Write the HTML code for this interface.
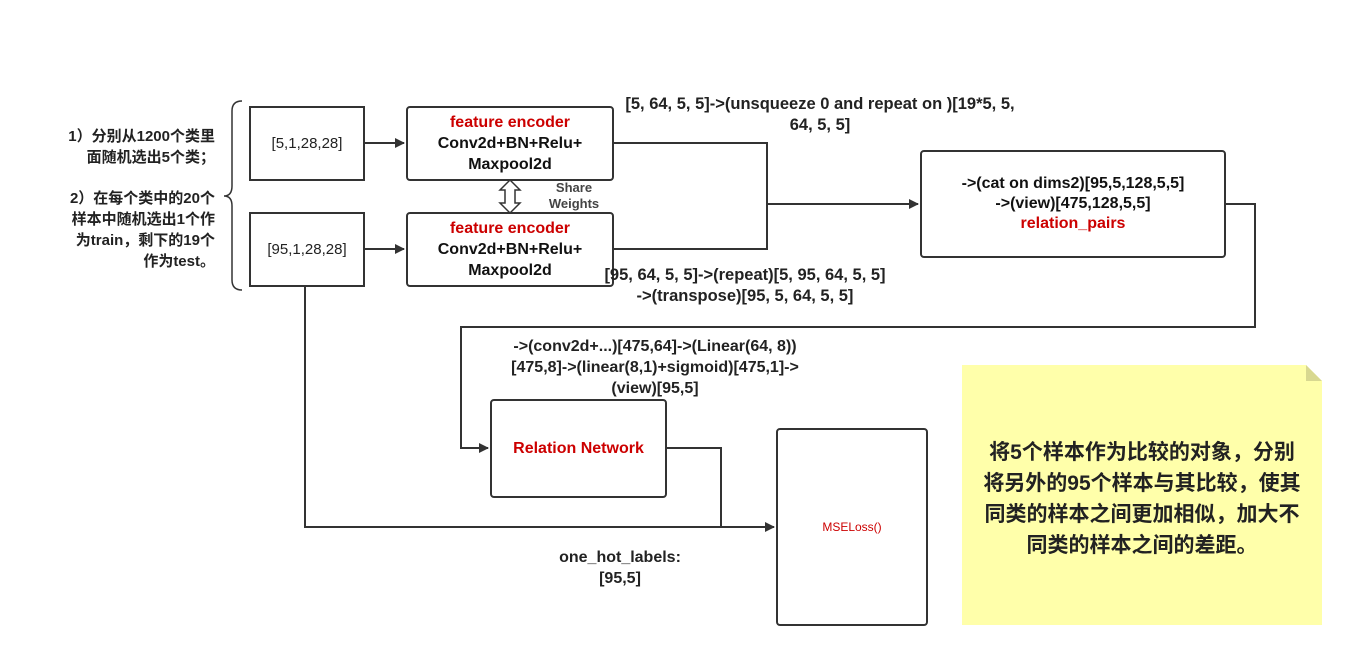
<!DOCTYPE html>
<html><head><meta charset="utf-8"><style>
body{margin:0;background:#fff;width:1354px;height:658px;overflow:hidden;position:relative;font-family:"Liberation Sans","Noto Sans CJK SC",sans-serif;font-weight:bold;color:#222}
.b{position:absolute;border:2px solid #333;box-sizing:border-box;display:flex;align-items:center;justify-content:center;text-align:center;background:#fff}
.r{border-radius:4px}
.t{position:absolute;text-align:center;font-size:15px;line-height:21px}
.red{color:#c00}
</style></head><body>
<svg width="1354" height="658" style="position:absolute;left:0;top:0">
<defs><marker id="a" markerWidth="10" markerHeight="10" refX="9" refY="5" orient="auto" markerUnits="userSpaceOnUse"><path d="M0,0 L10,5 L0,10 z" fill="#333"/></marker></defs>
<g stroke="#333" stroke-width="2" fill="none">
<path d="M242,101 Q232,101 232,111 L232,186 Q232,196 224,196 Q232,196 232,206 L232,280 Q232,290 242,290" stroke-width="1.5"/>
<path d="M364,143 L404,143" marker-end="url(#a)"/>
<path d="M364,249 L404,249" marker-end="url(#a)"/>
<path d="M613,143 L767,143 L767,249 L613,249"/>
<path d="M767,204 L918,204" marker-end="url(#a)"/>
<path d="M1225,204 L1255,204 L1255,327 L461,327 L461,448 L488,448" marker-end="url(#a)"/>
<path d="M666,448 L721,448 L721,527"/>
<path d="M305,286 L305,527 L774,527" marker-end="url(#a)"/>
</g>
<path d="M510,180 L500,190 L505,190 L505,203 L500,203 L510,213 L520,203 L515,203 L515,190 L520,190 Z" fill="#fff" stroke="#333" stroke-width="1.5"/>
<path d="M962,365 L1306,365 L1322,381 L1322,625 L962,625 Z" fill="#ffffaa"/>
<path d="M1306,365 L1306,381 L1322,381 Z" fill="#d8d890"/>
</svg>
<div class="t" style="left:30px;top:126px;width:185px;text-align:right">1）分别从1200个类里<br>面随机选出5个类；</div>
<div class="t" style="left:30px;top:188px;width:185px;text-align:right">2）在每个类中的20个<br>样本中随机选出1个作<br>为train，剩下的19个<br>作为test。</div>
<div class="b" style="left:249px;top:106px;width:116px;height:75px;font-weight:normal;font-size:15px">[5,1,28,28]</div>
<div class="b" style="left:249px;top:212px;width:116px;height:75px;font-weight:normal;font-size:15px">[95,1,28,28]</div>
<div class="b r" style="left:406px;top:106px;width:208px;height:75px;font-size:16px;line-height:21px;color:#111"><div><span class="red">feature encoder</span><br>Conv2d+BN+Relu+<br>Maxpool2d</div></div>
<div class="b r" style="left:406px;top:212px;width:208px;height:75px;font-size:16px;line-height:21px;color:#111"><div><span class="red">feature encoder</span><br>Conv2d+BN+Relu+<br>Maxpool2d</div></div>
<div class="t" style="left:535px;top:180px;width:78px;font-size:13px;line-height:16px;color:#444">Share<br>Weights</div>
<div class="t" style="left:590px;top:94px;width:460px;font-size:16.5px">[5, 64, 5, 5]-&gt;(unsqueeze 0 and repeat on )[19*5, 5,<br>64, 5, 5]</div>
<div class="t" style="left:570px;top:265px;width:350px;font-size:16.5px">[95, 64, 5, 5]-&gt;(repeat)[5, 95, 64, 5, 5]<br>-&gt;(transpose)[95, 5, 64, 5, 5]</div>
<div class="b r" style="left:920px;top:150px;width:306px;height:108px;font-size:16px;line-height:20px;color:#111"><div>-&gt;(cat on dims2)[95,5,128,5,5]<br>-&gt;(view)[475,128,5,5]<br><span class="red" style="font-size:16px">relation_pairs</span></div></div>
<div class="t" style="left:465px;top:336px;width:380px;font-size:16px">-&gt;(conv2d+...)[475,64]-&gt;(Linear(64, 8))<br>[475,8]-&gt;(linear(8,1)+sigmoid)[475,1]-&gt;<br>(view)[95,5]</div>
<div class="b r" style="left:490px;top:399px;width:177px;height:99px;font-size:16px"><span class="red">Relation Network</span></div>
<div class="b r" style="left:776px;top:428px;width:152px;height:198px;font-size:12px;font-weight:normal"><span class="red">MSELoss()</span></div>
<div class="t" style="left:540px;top:547px;width:160px;font-size:16px">one_hot_labels:<br>[95,5]</div>
<div class="t" style="left:972px;top:437px;width:340px;font-size:21px;line-height:31px;color:#222">将5个样本作为比较的对象，分别<br>将另外的95个样本与其比较，使其<br>同类的样本之间更加相似，加大不<br>同类的样本之间的差距。</div>
</body></html>
